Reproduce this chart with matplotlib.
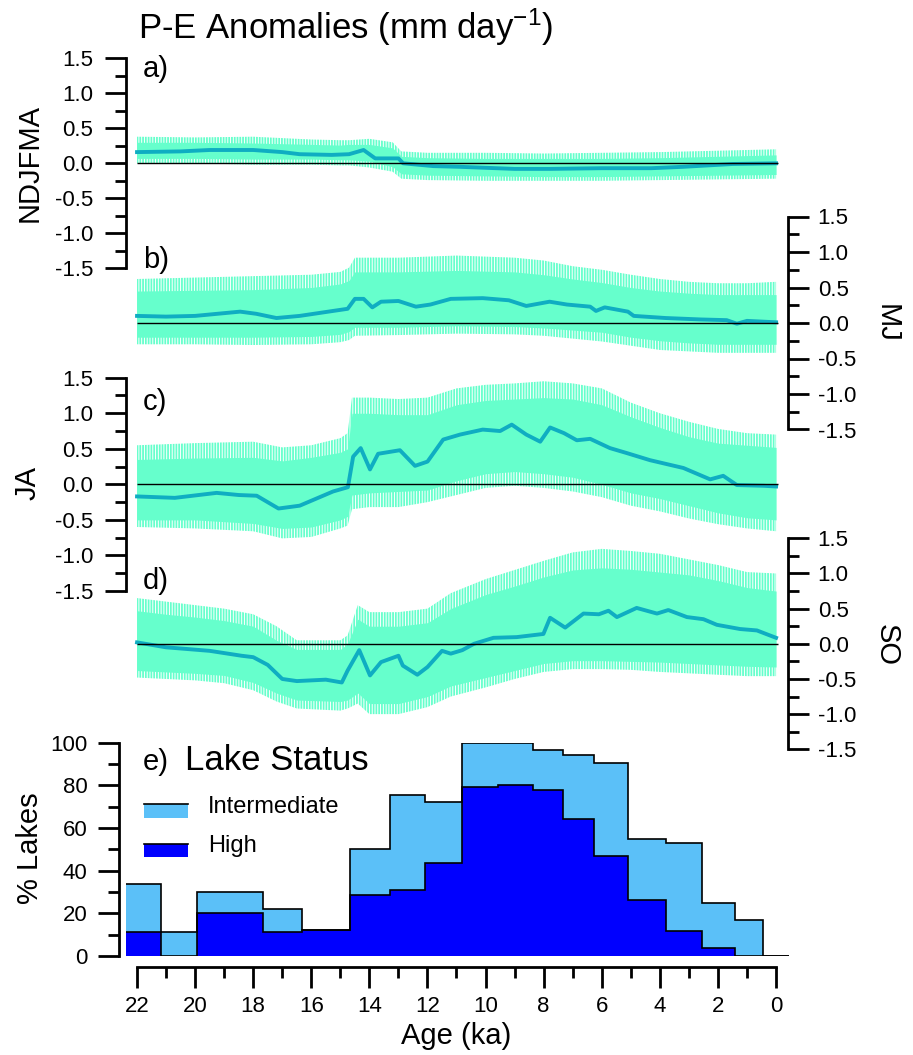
import numpy as np
import matplotlib
matplotlib.use("Agg")
import matplotlib.pyplot as plt
from matplotlib.patches import Rectangle
from matplotlib.ticker import MultipleLocator, FormatStrFormatter

plt.rcParams['font.family'] = ['Liberation Sans', 'DejaVu Sans']
plt.rcParams['mathtext.fontset'] = 'custom'
plt.rcParams['mathtext.rm'] = 'Liberation Sans'
plt.rcParams['mathtext.default'] = 'regular'
plt.rcParams['axes.unicode_minus'] = False
plt.rcParams['hatch.linewidth'] = 1.3

# ---------------- data ----------------
# panel a (NDJFMA)
a_band_x = [22, 20, 18, 16, 15, 14.7, 14, 13.2, 12.9, 12, 10, 8, 6, 4, 2, 0]
a_hi = [0.30, 0.30, 0.29, 0.27, 0.26, 0.27, 0.27, 0.22, 0.10, 0.08, 0.07, 0.07, 0.07, 0.08, 0.10, 0.12]
a_spk_hi = [0.38, 0.37, 0.38, 0.34, 0.33, 0.33, 0.35, 0.30, 0.17, 0.15, 0.15, 0.14, 0.15, 0.16, 0.18, 0.20]
a_lo = [0.07, 0.07, 0.06, 0.06, 0.05, 0.05, 0.03, -0.05, -0.15, -0.17, -0.18, -0.19, -0.19, -0.18, -0.17, -0.16]
a_spk_lo = [0.0, 0.0, -0.02, -0.02, -0.03, -0.03, -0.06, -0.12, -0.22, -0.24, -0.25, -0.25, -0.25, -0.24, -0.23, -0.22]
a_line_x = [22, 20.5, 19.5, 18, 17, 16.4, 15.3, 14.7, 14.2, 13.8, 13.0, 12.84, 11.8, 10.9, 9, 7.8, 6, 4.3, 3.2, 1.5, 0]
a_line_y = [0.16, 0.17, 0.19, 0.19, 0.16, 0.13, 0.12, 0.13, 0.19, 0.07, 0.07, 0.0, -0.04, -0.05, -0.08, -0.08, -0.07, -0.07, -0.05, -0.01, 0.0]

# panel b (MJ)
b_band_x = [22, 20, 18, 16, 15, 14.7, 14.5, 13, 11, 9, 8, 7, 6, 5, 4, 3, 2, 1, 0]
b_hi = [0.45, 0.46, 0.47, 0.50, 0.55, 0.60, 0.72, 0.72, 0.74, 0.72, 0.68, 0.62, 0.57, 0.50, 0.45, 0.42, 0.40, 0.40, 0.40]
b_spk_hi = [0.62, 0.64, 0.66, 0.68, 0.72, 0.78, 0.92, 0.92, 0.95, 0.92, 0.88, 0.80, 0.75, 0.68, 0.62, 0.58, 0.56, 0.56, 0.58]
b_lo = [-0.20, -0.20, -0.20, -0.19, -0.16, -0.12, -0.06, -0.06, -0.04, -0.05, -0.07, -0.10, -0.13, -0.20, -0.25, -0.28, -0.30, -0.30, -0.30]
b_spk_lo = [-0.30, -0.30, -0.31, -0.30, -0.27, -0.24, -0.18, -0.17, -0.15, -0.16, -0.18, -0.22, -0.26, -0.32, -0.38, -0.40, -0.42, -0.42, -0.42]
b_line_x = [22, 21, 20, 18.45, 17.9, 17.2, 16.4, 15.25, 14.75, 14.5, 14.2, 13.9, 13.6, 13.0, 12.4, 11.9, 11.2,
            10.1, 9.2, 8.6, 7.8, 7.2, 6.4, 6.2, 5.9, 5.1, 4.9, 3.8, 2.6, 1.7, 1.35, 1.0, 0]
b_line_y = [0.10, 0.09, 0.10, 0.16, 0.13, 0.07, 0.10, 0.17, 0.20, 0.34, 0.34, 0.22, 0.30, 0.31, 0.23, 0.26, 0.34,
            0.35, 0.32, 0.24, 0.30, 0.26, 0.23, 0.17, 0.22, 0.16, 0.10, 0.07, 0.05, 0.04, -0.01, 0.03, 0.01]

# panel c (JA)
c_band_x = [22, 20, 18, 17, 16, 15, 14.75, 14.6, 14, 13, 12, 11, 10, 9, 8, 7, 6, 5, 4, 3, 2, 1, 0]
c_hi = [0.35, 0.37, 0.38, 0.33, 0.38, 0.45, 0.50, 1.00, 1.00, 0.98, 0.98, 1.12, 1.18, 1.20, 1.22, 1.20, 1.12, 0.95, 0.80, 0.67, 0.58, 0.55, 0.52]
c_spk_hi = [0.55, 0.58, 0.60, 0.52, 0.55, 0.65, 0.72, 1.22, 1.22, 1.20, 1.22, 1.35, 1.40, 1.42, 1.45, 1.42, 1.35, 1.15, 1.00, 0.88, 0.78, 0.72, 0.70]
c_lo = [-0.50, -0.50, -0.55, -0.62, -0.60, -0.50, -0.45, -0.15, -0.12, -0.10, -0.08, 0.05, 0.15, 0.18, 0.15, 0.10, 0.00, -0.12, -0.20, -0.30, -0.40, -0.47, -0.50]
c_spk_lo = [-0.60, -0.62, -0.66, -0.76, -0.74, -0.62, -0.58, -0.35, -0.32, -0.32, -0.25, -0.15, -0.05, -0.02, -0.05, -0.10, -0.18, -0.30, -0.38, -0.48, -0.56, -0.62, -0.66]
c_line_x = [22, 20.7, 19.26, 18.5, 17.88, 17.13, 16.4, 15.25, 14.74, 14.56, 14.3, 13.98, 13.7, 12.95, 12.43, 12.0,
            11.46, 10.88, 10.1, 9.5, 9.1, 8.6, 8.12, 7.78, 7.3, 6.86, 6.4, 5.72, 5.14, 4.34, 3.19, 2.27, 1.82, 1.35, 0.44, 0]
c_line_y = [-0.17, -0.19, -0.12, -0.15, -0.16, -0.34, -0.30, -0.10, -0.04, 0.39, 0.51, 0.21, 0.43, 0.48, 0.26, 0.32,
            0.63, 0.70, 0.77, 0.75, 0.84, 0.70, 0.60, 0.80, 0.72, 0.62, 0.64, 0.51, 0.44, 0.34, 0.23, 0.07, 0.12, -0.01, -0.02, -0.03]

# panel d (SO)
d_band_x = [22, 21, 20, 19, 18, 17.2, 16.5, 15, 14.75, 14.4, 14, 13, 12, 11.2, 10, 9, 8, 7, 6, 5, 4, 3, 2, 1, 0]
d_hi = [0.47, 0.42, 0.38, 0.33, 0.25, 0.05, -0.08, -0.08, 0.00, 0.35, 0.25, 0.25, 0.30, 0.50, 0.70, 0.82, 0.95, 1.05, 1.08, 1.06, 1.02, 0.98, 0.90, 0.80, 0.75]
d_spk_hi = [0.65, 0.60, 0.55, 0.50, 0.42, 0.25, 0.05, 0.05, 0.12, 0.55, 0.45, 0.45, 0.50, 0.72, 0.92, 1.05, 1.18, 1.30, 1.35, 1.32, 1.28, 1.20, 1.12, 1.02, 1.00]
d_lo = [-0.38, -0.40, -0.42, -0.45, -0.55, -0.70, -0.80, -0.82, -0.80, -0.70, -0.85, -0.85, -0.75, -0.60, -0.48, -0.38, -0.28, -0.24, -0.24, -0.25, -0.26, -0.28, -0.30, -0.32, -0.33]
d_spk_lo = [-0.48, -0.50, -0.52, -0.56, -0.66, -0.82, -0.92, -0.95, -0.92, -0.85, -1.00, -1.00, -0.90, -0.75, -0.62, -0.50, -0.40, -0.36, -0.36, -0.37, -0.40, -0.42, -0.44, -0.46, -0.46]
d_line_x = [22, 21, 19.5, 18.4, 18.0, 17.5, 17.0, 16.5, 15.5, 14.95, 14.75, 14.35, 13.98, 13.6, 13.0, 12.85, 12.35,
            12.0, 11.5, 11.2, 10.8, 10.4, 9.73, 8.93, 8.01, 7.78, 7.26, 6.63, 6.1, 5.77, 5.48, 4.8, 4.1, 3.71, 3.07,
            2.5, 2.04, 1.24, 0.66, 0]
d_line_y = [0.02, -0.05, -0.10, -0.17, -0.19, -0.30, -0.50, -0.53, -0.51, -0.55, -0.38, -0.09, -0.45, -0.26, -0.17, -0.31, -0.44,
            -0.33, -0.10, -0.14, -0.09, 0.0, 0.085, 0.095, 0.14, 0.37, 0.23, 0.43, 0.42, 0.47, 0.38, 0.51, 0.43, 0.48, 0.38,
            0.35, 0.27, 0.21, 0.19, 0.085]

# panel e (lake status), bins in ka (old -> young)
lake_edges = [22.38, 21.16, 19.95, 17.65, 16.31, 14.67, 13.29, 12.08, 10.80, 9.56, 8.36, 7.32, 6.26, 5.11, 3.80, 2.56, 1.41, 0.44, -0.46]
pct_high = [11.1, 0, 20.3, 11.1, 12.2, 28.8, 31.1, 43.7, 79.1, 80.2, 77.8, 64.1, 46.9, 26.3, 11.7, 3.6, 0, 0]
pct_intermediate = [22.5, 11.1, 9.6, 10.9, 0, 21.2, 44.2, 28.6, 20.9, 19.8, 18.9, 30.3, 43.7, 28.6, 41.3, 21.4, 17.0, 0]

yticks_pe = [-1.5, -1.0, -0.5, 0.0, 0.5, 1.0, 1.5]
xticks_age = [22, 20, 18, 16, 14, 12, 10, 8, 6, 4, 2, 0]

# ---------------- styling ----------------
W, H = 913, 1055
BAND = '#66FFCC'
LINE = '#0FADC2'
LIGHT = '#5BC0F8'
DARK = '#0000FF'
TICKFS = 16
LABFS = 21

fig = plt.figure(figsize=(W / 100, H / 100), dpi=100)


def rect(l, t, r, b):
    return [l / W, 1 - b / H, (r - l) / W, (b - t) / H]


def pe_panel(r, side, bx, hi, shi, lo, slo, lx, ly):
    ax = fig.add_axes(r)
    ax.set_facecolor('none')
    ax.set_xlim(22.39, -0.40)
    ax.set_ylim(-1.5, 1.5)
    # sparse high-frequency spikes: vertical hatching between spike envelope
    ax.fill_between(bx, slo, shi, facecolor='none', edgecolor=BAND, hatch='||||||', lw=0, zorder=1)
    ax.fill_between(bx, lo, hi, color=BAND, lw=0, zorder=2)
    ax.plot(lx, ly, color=LINE, lw=2.8, solid_joinstyle='round', zorder=3)
    ax.hlines(0, 22, -0.05, color='black', lw=1.0, zorder=4)
    for s in ['top', 'bottom']:
        ax.spines[s].set_visible(False)
    other = 'right' if side == 'left' else 'left'
    ax.spines[other].set_visible(False)
    ax.spines[side].set_linewidth(2.0)
    ax.tick_params(axis='x', bottom=False, labelbottom=False)
    ax.yaxis.set_ticks_position(side)
    ax.yaxis.set_label_position(side)
    ax.set_yticks(yticks_pe)
    ax.yaxis.set_minor_locator(MultipleLocator(0.25))
    ax.yaxis.set_major_formatter(FormatStrFormatter('%.1f'))
    pad = 8.2 if side == 'left' else 6.6
    ax.tick_params(axis='y', which='major', direction='out', length=15, width=2.0,
                   labelsize=TICKFS, pad=pad)
    ax.tick_params(axis='y', which='minor', direction='out', length=8, width=2.0)
    return ax


ax_a = pe_panel(rect(125.7, 58.3, 787.7, 268.3), 'left', a_band_x, a_hi, a_spk_hi, a_lo, a_spk_lo, a_line_x, a_line_y)
ax_b = pe_panel(rect(125.7, 216.5, 787.7, 429.5), 'right', b_band_x, b_hi, b_spk_hi, b_lo, b_spk_lo, b_line_x, b_line_y)
ax_c = pe_panel(rect(125.7, 377.7, 787.7, 591.0), 'left', c_band_x, c_hi, c_spk_hi, c_lo, c_spk_lo, c_line_x, c_line_y)
ax_d = pe_panel(rect(125.7, 538.3, 787.7, 749.3), 'right', d_band_x, d_hi, d_spk_hi, d_lo, d_spk_lo, d_line_x, d_line_y)

# lake status panel
ax_e = fig.add_axes(rect(119, 742.7, 790.5, 956))
ax_e.set_facecolor('none')
ax_e.set_xlim(22.62, -0.5)
ax_e.set_ylim(0, 100)
edges = np.array(lake_edges)[::-1]
high = np.array(pct_high)[::-1]
total = high + np.array(pct_intermediate)[::-1]
ax_e.stairs(total, edges, fill=True, color=LIGHT, lw=0, baseline=0, zorder=1)
ax_e.stairs(high, edges, fill=True, color=DARK, lw=0, baseline=0, zorder=2)
ax_e.stairs(total, edges, fill=False, baseline=None, color='black', lw=1.2, zorder=3)
ax_e.stairs(high, edges, fill=False, baseline=None, color='black', lw=1.2, zorder=3)
for s in ['top', 'right']:
    ax_e.spines[s].set_visible(False)
ax_e.spines['left'].set_linewidth(2.0)
ax_e.spines['bottom'].set_linewidth(2.0)
ax_e.spines['bottom'].set_position(('outward', 7.7))
ax_e.spines['bottom'].set_bounds(0, 22)
ax_e.set_yticks([0, 20, 40, 60, 80, 100])
ax_e.yaxis.set_minor_locator(MultipleLocator(10))
ax_e.set_xticks(xticks_age)
ax_e.set_xticklabels([str(v) for v in xticks_age])
ax_e.xaxis.set_minor_locator(MultipleLocator(1))
ax_e.tick_params(axis='y', which='major', direction='out', length=15, width=2.0, labelsize=TICKFS, pad=7.7)
ax_e.tick_params(axis='y', which='minor', direction='out', length=8, width=2.0)
ax_e.tick_params(axis='x', which='major', direction='out', length=15, width=2.0, labelsize=TICKFS, pad=6.3)
ax_e.tick_params(axis='x', which='minor', direction='out', length=8, width=2.0)

# legend (drawn manually)
ax_e.add_patch(Rectangle((0.0368, 0.648), 0.0655, 0.0646, transform=ax_e.transAxes,
                         facecolor=LIGHT, edgecolor='none', clip_on=False))
ax_e.plot([0.0368, 0.1023], [0.7126, 0.7126], transform=ax_e.transAxes, color='black', lw=1.2, clip_on=False)
ax_e.add_patch(Rectangle((0.0368, 0.464), 0.0655, 0.061, transform=ax_e.transAxes,
                         facecolor=DARK, edgecolor='none', clip_on=False))
ax_e.plot([0.0368, 0.1023], [0.525, 0.525], transform=ax_e.transAxes, color='black', lw=1.2, clip_on=False)
ax_e.text(0.1325, 0.6715, 'Intermediate', transform=ax_e.transAxes, fontsize=17, va='baseline', ha='left')
ax_e.text(0.1325, 0.489, 'High', transform=ax_e.transAxes, fontsize=17, va='baseline', ha='left')

# ---------------- texts ----------------
def ftext(x, y, s, **kw):
    fig.text(x / W, 1 - y / H, s, **kw)


ftext(138, 38.3, r'P-E Anomalies (mm day$^{-1}$)', fontsize=25, va='baseline', ha='left')
ftext(143, 77.3, 'a)', fontsize=LABFS, va='baseline')
ftext(143, 268, 'b)', fontsize=LABFS, va='baseline')
ftext(143, 410, 'c)', fontsize=LABFS, va='baseline')
ftext(143, 589.3, 'd)', fontsize=LABFS, va='baseline')
ftext(143, 770, 'e)', fontsize=LABFS, va='baseline')
ftext(185, 770, 'Lake Status', fontsize=25, va='baseline')
ftext(30, 163.3, 'NDJFMA', fontsize=LABFS, rotation=90, ha='center', va='center')
ftext(28, 483, 'JA', fontsize=LABFS, rotation=90, ha='center', va='center')
ftext(30, 848, '% Lakes', fontsize=LABFS, rotation=90, ha='center', va='center')
ftext(887, 323, 'MJ', fontsize=LABFS, rotation=270, ha='center', va='center')
ftext(887, 645, 'SO', fontsize=LABFS, rotation=270, ha='center', va='center')
ftext(456.6, 1036, 'Age (ka)', fontsize=LABFS, ha='center', va='center')

fig.savefig('out.png', dpi=100)
